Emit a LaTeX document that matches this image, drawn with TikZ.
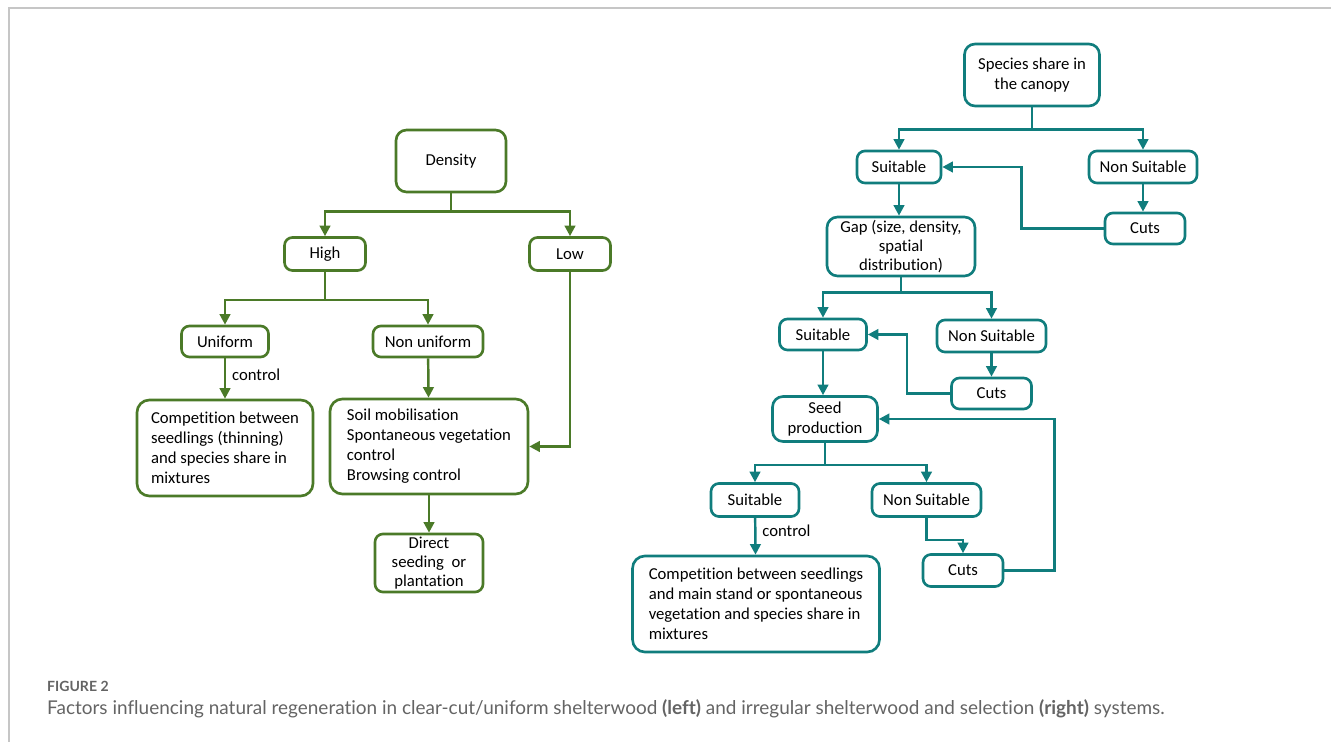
\documentclass[tikz,border=0pt]{standalone}
\usepackage{fontspec}
\setmainfont{Carlito}[Ligatures=NoCommon]
\newfontfamily\capfont{Lato}[Ligatures=NoCommon]
\usetikzlibrary{arrows.meta}
\definecolor{leafgreen}{RGB}{75,122,40}
\definecolor{canopyteal}{RGB}{16,125,125}
\definecolor{capgray}{RGB}{100,100,100}
\begin{document}
\begin{tikzpicture}[x=0.02cm,y=-0.02cm,
  font=\fontsize{9.5}{11.4}\selectfont,
  box/.style={draw, line width=1.5pt, rounded corners=4.5pt, fill=white, inner sep=2pt, align=center},
  gbox/.style={box, draw=leafgreen},
  tbox/.style={box, draw=canopyteal},
  garr/.style={leafgreen, line width=1.4pt, -{Triangle[length=6pt,width=6pt]}},
  tarr/.style={canopyteal, line width=1.4pt, -{Triangle[length=6pt,width=6pt]}}]
\useasboundingbox (0,0) rectangle (1331,742);
\draw[gray!45, line width=0.8pt] (9,742) -- (9,8) -- (1331,8);
% left tree
\node[gbox, rounded corners=6pt, minimum width=2.2cm, minimum height=1.24cm] (dens) at (451,161) {Density};
\node[gbox, minimum width=1.62cm, minimum height=0.66cm] (high) at (325,254) {High};
\node[gbox, minimum width=1.62cm, minimum height=0.66cm] (low) at (570,254) {Low};
\node[gbox, minimum width=1.74cm, minimum height=0.62cm] (unif) at (225,341.5) {Uniform};
\node[gbox, minimum width=2.2cm, minimum height=0.62cm] (nonunif) at (428,341.5) {Non uniform};
\node[gbox, rounded corners=7pt, align=left, minimum width=3.52cm, minimum height=1.92cm] (compa) at (225,448)
  {Competition between\\seedlings (thinning)\\and species share in\\mixtures};
\node[gbox, rounded corners=7pt, align=left, minimum width=3.96cm, minimum height=1.9cm] (soil) at (429,446.5)
  {Soil mobilisation\\Spontaneous vegetation\\control\\Browsing control};
\node[gbox, inner ysep=0pt, font=\fontsize{9.5}{10.8}\selectfont, minimum width=2.16cm, minimum height=1.16cm] (direct) at (429,563)
  {Direct\\seeding\ \ or\\plantation};
\foreach \kid in {high,low}
  \draw[garr] (dens.south) -- ++(0,18) -| (\kid.north);
\foreach \kid in {unif,nonunif}
  \draw[garr] (high.south) -- ++(0,28) -| (\kid.north);
\draw[garr] (unif) -- node[right, pos=0.4, text=black]{control} (compa);
\draw[garr] (nonunif) -- (soil);
\draw[garr] (low.south) |- (soil.east);
\draw[garr] (soil) -- (direct);
% right tree
\node[tbox, rounded corners=6pt, minimum width=2.7cm, minimum height=1.24cm] (species) at (1032,75) {Species share in\\the canopy};
\node[tbox, minimum width=1.68cm, minimum height=0.64cm] (suit1) at (899,167) {Suitable};
\node[tbox, minimum width=2.16cm, minimum height=0.64cm] (nons1) at (1143,167) {Non Suitable};
\node[tbox, minimum width=1.6cm, minimum height=0.62cm] (cuts1) at (1145,228.5) {Cuts};
\node[tbox, rounded corners=6pt, inner ysep=1pt, font=\fontsize{9.5}{10.8}\selectfont, minimum width=2.96cm, minimum height=1.18cm] (gap) at (901,246.5)
  {Gap (size, density,\\spatial\\distribution)};
\node[tbox, minimum width=1.74cm, minimum height=0.62cm] (suit2) at (823,334.5) {Suitable};
\node[tbox, minimum width=2.18cm, minimum height=0.64cm] (nons2) at (991.5,336) {Non Suitable};
\node[tbox, minimum width=1.6cm, minimum height=0.62cm] (cuts2) at (991.5,393.5) {Cuts};
\node[tbox, rounded corners=6pt, minimum width=2.1cm, minimum height=0.9cm] (seed) at (825,419) {Seed\\production};
\node[tbox, minimum width=1.76cm, minimum height=0.66cm] (suit3) at (755,500) {Suitable};
\node[tbox, minimum width=2.18cm, minimum height=0.66cm] (nons3) at (926.5,500) {Non Suitable};
\node[tbox, minimum width=1.6cm, minimum height=0.64cm] (cuts3) at (963,570.5) {Cuts};
\node[tbox, rounded corners=7pt, align=left, minimum width=4.94cm, minimum height=1.92cm] (compb) at (756,604)
  {Competition between seedlings\\and main stand or spontaneous\\vegetation and species share in\\mixtures};
\foreach \kid in {suit1,nons1}
  \draw[tarr] (species.south) -- ++(0,22) -| (\kid.north);
\draw[tarr] (nons1.south) -- (nons1.south |- cuts1.north);
\draw[tarr] (cuts1.west) -- ++(-82,0) |- (suit1.east);
\draw[tarr] (suit1.south) -- (suit1.south |- gap.north);
\foreach \kid in {suit2,nons2}
  \draw[tarr] (gap.south) -- ++(0,15) -| (\kid.north);
\draw[tarr] (nons2) -- (cuts2);
\draw[tarr] (cuts2.west) -- ++(-43,0) |- (suit2.east);
\draw[tarr] (suit2.south) -- (suit2.south |- seed.north);
\foreach \kid in {suit3,nons3}
  \draw[tarr] (seed.south) -- ++(0,22) -| (\kid.north);
\draw[tarr] (suit3) -- node[right, pos=0.35, text=black]{control} (compb);
\draw[tarr] (nons3.south) -- ++(0,22) -| (cuts3.north);
\draw[tarr] (cuts3.east) -- ++(50,0) |- (seed.east);
% caption
\node[anchor=base west, text=capgray, font=\capfont\bfseries\fontsize{8}{9.6}\selectfont] (figlabel) at (41,691) {FIGURE 2};
\node[anchor=base west, text=capgray, font=\capfont\fontsize{10.8}{13}\selectfont] (caption) at (41,714)
  {Factors influencing natural regeneration in clear-cut/uniform shelterwood \textbf{(left)} and irregular shelterwood and selection \textbf{(right)} systems.};
\end{tikzpicture}
\end{document}
